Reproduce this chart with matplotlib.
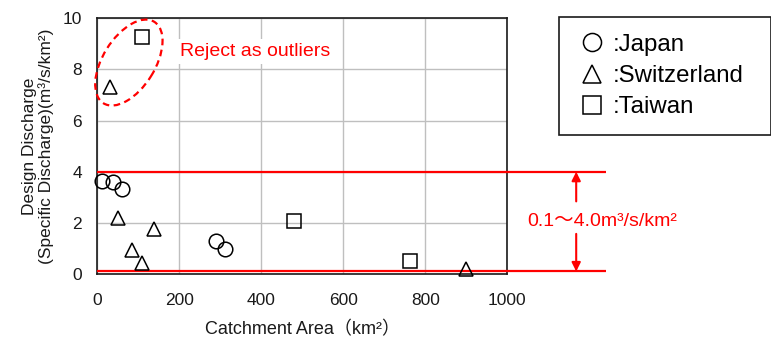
import matplotlib
matplotlib.use("Agg")
import matplotlib.pyplot as plt
from matplotlib.lines import Line2D
from matplotlib.patches import Ellipse
from matplotlib.transforms import ScaledTranslation

plt.rcParams['font.family'] = ['Liberation Sans', 'Noto Sans CJK JP', 'DejaVu Sans']

# data
japan_area = [12, 39, 60, 289, 311]
japan_q = [3.62, 3.58, 3.32, 1.28, 0.98]
swiss_area = [31, 51, 84, 109, 138, 899]
swiss_q = [7.32, 2.18, 0.95, 0.43, 1.78, 0.18]
taiwan_area = [108, 480, 763]
taiwan_q = [9.27, 2.08, 0.51]

range_low = 0.1
range_high = 4.0
x_ticks = [0, 200, 400, 600, 800, 1000]
y_ticks = [0, 2, 4, 6, 8, 10]

fig = plt.figure(figsize=(7.71, 3.38), dpi=100)
ax = fig.add_axes([0.1262, 0.1893, 0.5318, 0.7565])

ax.set_xlim(0, 1000)
ax.set_ylim(0, 10)
ax.set_xticks(x_ticks)
ax.set_yticks(y_ticks)
ax.grid(True, color='#bfbfbf', lw=1)
ax.set_axisbelow(True)
ax.tick_params(length=0, labelsize=12.5, colors='#1a1a1a')
ax.tick_params(axis='x', pad=14)
ax.tick_params(axis='y', pad=11)
for sp in ax.spines.values():
    sp.set_linewidth(1.2)
    sp.set_color('#1a1a1a')

# outlier range lines, extended past the axes
ax.hlines([range_high, range_low], 0, 1240, colors='red', lw=1.6, clip_on=False, zorder=3)

mk = dict(ls='none', mfc='none', mec='black', ms=10.5, mew=1.1, clip_on=False, zorder=4)
ax.plot(japan_area, japan_q, marker='o', **mk)
ax.plot(swiss_area, swiss_q, marker='^', **mk)
ax.plot(taiwan_area, taiwan_q, marker='s', **mk)

# dashed ellipse around outliers
ell_tr = fig.dpi_scale_trans + ScaledTranslation(77, 8.27, ax.transData)
ax.add_patch(Ellipse((0, 0), 0.96, 0.52, angle=58, transform=ell_tr,
                     fill=False, ec='red', lw=1.6, ls=(0, (3, 2)), clip_on=False, zorder=5))
ax.text(202, 8.7, 'Reject as outliers', color='red', fontsize=14, va='center', ha='left',
        bbox=dict(fc='white', ec='none', pad=3), zorder=3)

# range arrows and label
arrow_x = 1168
mid = (range_low + range_high) / 2
ap = dict(arrowstyle='-|>', color='red', lw=1.5, mutation_scale=13, shrinkA=0, shrinkB=0)
ax.annotate('', xy=(arrow_x, range_high), xytext=(arrow_x, 2.84), arrowprops=ap, annotation_clip=False)
ax.annotate('', xy=(arrow_x, range_low), xytext=(arrow_x, 1.57), arrowprops=ap, annotation_clip=False)
ax.text(1231, mid, '0.1～4.0m³/s/km²', color='red', fontsize=14, ha='center', va='center')

ax.set_xlabel('Catchment Area（km²）', fontsize=13, labelpad=9, color='#1a1a1a')
ax.set_ylabel('Design Discharge\n(Specific Discharge)(m³/s/km²)', fontsize=12.5, labelpad=6,
              color='#1a1a1a', linespacing=1.1)

hmk = dict(ls='none', mfc='none', mec='black', ms=13, mew=1.1)
handles = [Line2D([], [], marker='o', **hmk),
           Line2D([], [], marker='^', **hmk),
           Line2D([], [], marker='s', **hmk)]
leg = fig.legend(handles, [':Japan', ':Switzerland', ':Taiwan'], loc='upper left',
                 bbox_to_anchor=(559 / 771, 0, 212 / 771, 1 - 17 / 338), mode='expand',
                 fontsize=17.3, frameon=True,
                 fancybox=False, edgecolor='#1a1a1a', framealpha=1, borderaxespad=0,
                 handlelength=1.33, handletextpad=0.2, borderpad=0.7, labelspacing=0.38)
leg.get_frame().set_linewidth(1.2)

fig.savefig('out.png', dpi=100)
